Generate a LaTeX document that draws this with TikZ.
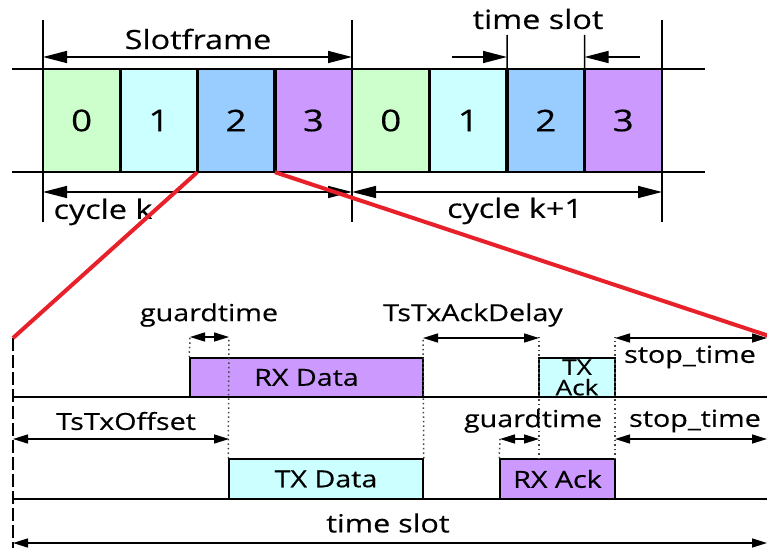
\documentclass[tikz,border=0pt]{standalone}
\usepackage{fontspec}
\setmainfont{Open Sans}[FakeStretch=1.22, FakeBold=0.4]
\usetikzlibrary{arrows.meta}
\definecolor{cgreen}{HTML}{CCFFCC}
\definecolor{ccyan}{HTML}{CCFFFF}
\definecolor{cblue}{HTML}{99CCFF}
\definecolor{cpurple}{HTML}{CC99FF}
\definecolor{cred}{HTML}{E8202A}
\definecolor{cdot}{HTML}{444444}
\begin{document}
\begin{tikzpicture}[x=1pt,y=-1pt,
  thinline/.style={line width=1.5pt, black},
  sepline/.style={line width=3.5pt, black},
  slotbox/.style={draw=none, inner sep=0pt, minimum height=103pt, font=\fontsize{30}{30}\selectfont},
  topdim/.style={line width=1.5pt, {Triangle[length=24pt,width=12pt]}-{Triangle[length=24pt,width=12pt]}},
  toparrow/.style={line width=1.5pt, -{Triangle[length=24pt,width=12pt]}},
  botdim/.style={line width=1.5pt, {Triangle[length=15pt,width=9pt]}-{Triangle[length=15pt,width=9pt]}},
  toplabel/.style={font=\fontsize{26.5}{26.5}\selectfont, inner sep=1pt},
  botlabel/.style={font=\fontsize{23.5}{23.5}\selectfont, inner sep=1pt},
  boxstyle/.style={draw, line width=1.5pt, inner sep=0pt, font=\fontsize{23.5}{23.5}\selectfont},
  dotline/.style={cdot, line width=1.5pt, dash pattern=on 1.5pt off 3pt},
  redline/.style={cred, line width=4pt}
]
\useasboundingbox (0,0) rectangle (767,548);

% ---------- top: slotframes ----------
\node[slotbox, fill=cgreen,  minimum width=77.25pt] (a0) at (81.625,120.5) {0};
\node[slotbox, fill=ccyan,   minimum width=77.25pt] (a1) at (158.875,120.5) {1};
\node[slotbox, fill=cblue,   minimum width=77.25pt] (a2) at (236.125,120.5) {2};
\node[slotbox, fill=cpurple, minimum width=77.25pt] (a3) at (313.375,120.5) {3};
\node[slotbox, fill=cgreen,  minimum width=77.5pt] (b0) at (390.75,120.5) {0};
\node[slotbox, fill=ccyan,   minimum width=77.5pt] (b1) at (468.25,120.5) {1};
\node[slotbox, fill=cblue,   minimum width=77.5pt] (b2) at (545.75,120.5) {2};
\node[slotbox, fill=cpurple, minimum width=77.5pt] (b3) at (623.25,120.5) {3};

\coordinate (tl) at (12,69);  \coordinate (tr) at (705,69);
\coordinate (bl) at (12,172); \coordinate (br) at (705,172);
\draw[thinline] (tl) -- (tr);
\draw[thinline] (bl) -- (br);

\foreach \n in {a0,a1,a2,b0,b1,b2}
  \draw[sepline] (\n.north east) -- (\n.south east);

\coordinate (v1t) at (43,20);  \coordinate (v1b) at (43,222);
\coordinate (v2t) at (352,20); \coordinate (v2b) at (352,222);
\coordinate (v3t) at (662,20); \coordinate (v3b) at (662,222);
\draw[thinline] (v1t) -- (v1b);
\draw[thinline] (v2t) -- (v2b);
\draw[thinline] (v3t) -- (v3b);

\coordinate (sfl) at (43,57); \coordinate (sfr) at (352,57);
\draw[topdim] (sfl) -- (sfr);
\node[toplabel] (sflab) at (198,39) {Slotframe};

\coordinate (ckl) at (43,192); \coordinate (ckm) at (352,192); \coordinate (ckr) at (662,192);
\draw[topdim] (ckl) -- (ckm);
\draw[topdim] (ckm) -- (ckr);
\node[toplabel] (cklab) at (103,212) {cycle k};
\node[toplabel] (ck1lab) at (515,211) {cycle k+1};

\coordinate (ts1t) at (507,35); \coordinate (ts2t) at (584.5,35);
\draw[thinline] (ts1t) -- (b1.north east);
\draw[thinline] (ts2t) -- (b2.north east);
\coordinate (tsa) at (452,57); \coordinate (tsb) at (640,57);
\coordinate (tsa2) at (507,57); \coordinate (tsb2) at (584.5,57);
\draw[toparrow] (tsa) -- (tsa2);
\draw[toparrow] (tsb) -- (tsb2);
\node[toplabel] (tslab) at (538,19) {time slot};

% ---------- bottom: timing ----------
\coordinate (o) at (13,338);
\coordinate (obot) at (13,548);
\coordinate (l1a) at (13,397); \coordinate (l1b) at (767,397);
\coordinate (l2a) at (13,499); \coordinate (l2b) at (767,499);
\draw[thinline] (l1a) -- (l1b);
\draw[thinline] (l2a) -- (l2b);

\node[boxstyle, fill=cpurple, minimum width=233pt, minimum height=39pt] (rxd) at (306.5,377.5) {RX Data};
\node[boxstyle, fill=ccyan,   minimum width=194pt, minimum height=40pt] (txd) at (326,479) {TX Data};
\node[boxstyle, fill=ccyan,   minimum width=76pt,  minimum height=39pt, align=center, font=\fontsize{21.5}{20.5}\selectfont] (txa) at (577,377.5) {TX\\Ack};
\node[boxstyle, fill=cpurple, minimum width=115pt, minimum height=40pt] (rxa) at (557.5,479) {RX Ack};

% dotted guides
\coordinate (g1) at (190,337);
\coordinate (g2) at (229,337);
\coordinate (g3) at (423,337);
\coordinate (g4) at (539,337);
\coordinate (g4b) at (539,459);
\coordinate (g5) at (615,337);
\coordinate (g5b) at (615,459);
\coordinate (g6) at (500,439);
\draw[dotline] (rxd.north west) -- (g1);
\draw[dotline] (txd.north west) -- (g2);
\draw[dotline] (txd.north east) -- (g3);
\draw[dotline] (g4b) -- (g4);
\draw[dotline] (g5b) -- (g5);
\draw[dotline] (rxa.north west) -- (g6);

\draw[line width=1.8pt, dash pattern=on 13pt off 4pt] (o) -- (obot);

% dimension arrows
\draw[botdim] (g1) -- (g2);
\node[botlabel] (gt1) at (209,315) {guardtime};
\coordinate (d1) at (423,338); \coordinate (d2) at (539,338);
\draw[botdim] (d1) -- (d2);
\node[botlabel] (ackd) at (473,315) {TsTxAckDelay};
\coordinate (s1a) at (615,338); \coordinate (s1b) at (767,338);
\draw[botdim] (s1a) -- (s1b);

\coordinate (off1) at (13,439); \coordinate (off2) at (229,439);
\draw[botdim] (off1) -- (off2);
\node[botlabel] (offl) at (126,421) {TsTxOffset};
\coordinate (gg1) at (500,439); \coordinate (gg2) at (539,439);
\draw[botdim] (gg1) -- (gg2);
\node[botlabel] (gt2) at (533,421) {guardtime};
\coordinate (s2a) at (615,439); \coordinate (s2b) at (767,439);
\draw[botdim] (s2a) -- (s2b);
\node[botlabel] (st2) at (695,421) {stop\_time};

\coordinate (tsl) at (13,543); \coordinate (tsr) at (767,543);
\draw[botdim] (tsl) -- (tsr);
\node[botlabel, font=\fontsize{25}{25}\selectfont] (tsb) at (388,523) {time slot};

\node[botlabel, fill=white, inner sep=2pt] (st1) at (690,357) {stop\_time};

% red zoom lines
\coordinate (rr) at (772,337);
\draw[redline] (a2.south west) -- (o);
\draw[redline] (a2.south east) -- (rr);
\end{tikzpicture}
\end{document}
